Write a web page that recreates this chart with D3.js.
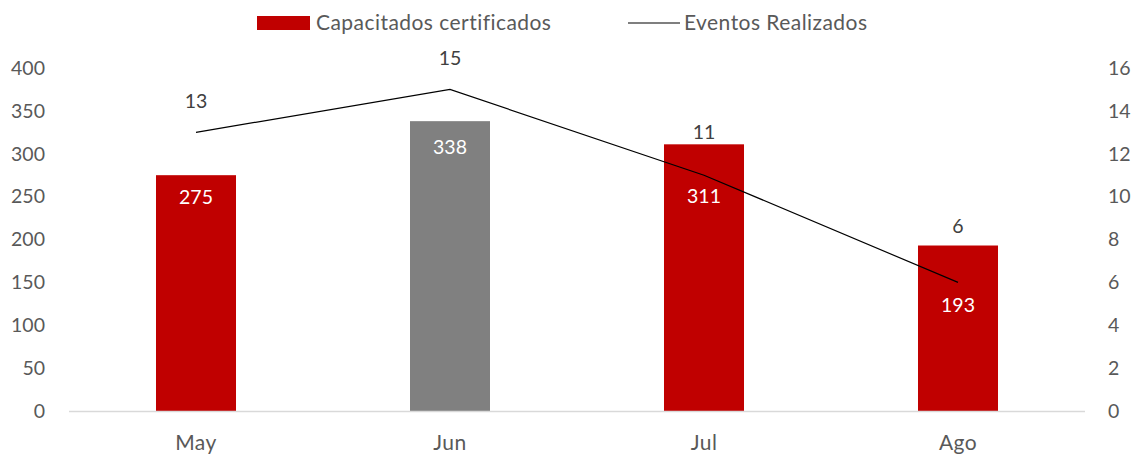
<!DOCTYPE html>
<html><head><meta charset="utf-8">
<script src="https://cdn.jsdelivr.net/npm/d3@7"></script>
<style>body{margin:0;background:#fff}svg{display:block}text{font-family:Lato,"Open Sans",sans-serif}</style>
</head><body>
<svg id="c" width="1138" height="455"></svg>
<script>
const categories = ["May", "Jun", "Jul", "Ago"];
const capacitados = [275, 338, 311, 193];
const eventos = [13, 15, 11, 6];
const leftTicks = [0, 50, 100, 150, 200, 250, 300, 350, 400];
const rightTicks = [0, 2, 4, 6, 8, 10, 12, 14, 16];
const barColors = ["#C00000", "#808080", "#C00000", "#C00000"];
const seriesNames = ["Capacitados certificados", "Eventos Realizados"];

// label placement offsets (layout, not data)
const barLabelOffset = [22, 26, 52, 60];
const lineLabelAboveBar = [false, false, true, true];
const lineLabelOffset = [-31, -31, -12, -19];

const svg = d3.select("#c");
const pLeft = 69, pRight = 1085, pTop = 68, pBottom = 411;
const txt = "#595959", fs = 19.5, fsWord = 21, ls = "0.45px";

const x = d3.scaleBand().domain(categories).range([pLeft, pRight]).paddingInner(0.685).paddingOuter(0.3425);
const yL = d3.scaleLinear().domain([0, 400]).range([pBottom, pTop]);
const yR = d3.scaleLinear().domain([0, 16]).range([pBottom, pTop]);

svg.append("g").selectAll("text").data(leftTicks).join("text")
  .attr("x", 45).attr("y", d => yL(d)).attr("dy", "0.35em")
  .attr("text-anchor", "end").attr("fill", txt).attr("font-size", fs).text(d => d);
svg.append("g").selectAll("text").data(rightTicks).join("text")
  .attr("x", 1108).attr("y", d => yR(d)).attr("dy", "0.35em")
  .attr("text-anchor", "start").attr("fill", txt).attr("font-size", fs).text(d => d);

svg.append("g").selectAll("rect").data(capacitados).join("rect")
  .attr("x", (d, i) => x(categories[i])).attr("width", x.bandwidth())
  .attr("y", d => yL(d)).attr("height", d => yL(0) - yL(d))
  .attr("fill", (d, i) => barColors[i]);

svg.append("line").attr("x1", pLeft).attr("x2", pRight).attr("y1", pBottom + 0.5).attr("y2", pBottom + 0.5)
  .attr("stroke", "#d9d9d9").attr("stroke-width", 1.3);

svg.append("g").selectAll("text").data(categories).join("text")
  .attr("x", d => x(d) + x.bandwidth() / 2).attr("y", 443).attr("dy", "0.35em")
  .attr("text-anchor", "middle").attr("fill", txt).attr("font-size", fsWord).attr("letter-spacing", ls).text(d => d);

const line = d3.line().x((d, i) => x(categories[i]) + x.bandwidth() / 2).y(d => yR(d));
svg.append("path").datum(eventos).attr("d", line).attr("fill", "none")
  .attr("stroke", "#000").attr("stroke-width", 1.2);

svg.append("g").selectAll("text").data(capacitados).join("text")
  .attr("x", (d, i) => x(categories[i]) + x.bandwidth() / 2)
  .attr("y", (d, i) => yL(d) + barLabelOffset[i]).attr("dy", "0.35em")
  .attr("text-anchor", "middle").attr("fill", "#fff").attr("font-size", fs).text(d => d);

svg.append("g").selectAll("text").data(eventos).join("text")
  .attr("x", (d, i) => x(categories[i]) + x.bandwidth() / 2)
  .attr("y", (d, i) => (lineLabelAboveBar[i] ? yL(capacitados[i]) : yR(d)) + lineLabelOffset[i]).attr("dy", "0.35em")
  .attr("text-anchor", "middle").attr("fill", "#404040").attr("font-size", fs).text(d => d);

const lg = svg.append("g");
lg.append("rect").attr("x", 257).attr("y", 16).attr("width", 53).attr("height", 14).attr("fill", "#C00000");
lg.append("text").attr("x", 316).attr("y", 23).attr("dy", "0.35em").attr("fill", txt).attr("font-size", fsWord).attr("letter-spacing", ls).text(seriesNames[0]);
lg.append("line").attr("x1", 628).attr("x2", 680).attr("y1", 23).attr("y2", 23).attr("stroke", "#000").attr("stroke-width", 1.2);
lg.append("text").attr("x", 684).attr("y", 23).attr("dy", "0.35em").attr("fill", txt).attr("font-size", fsWord).attr("letter-spacing", ls).text(seriesNames[1]);
</script>
</body></html>
